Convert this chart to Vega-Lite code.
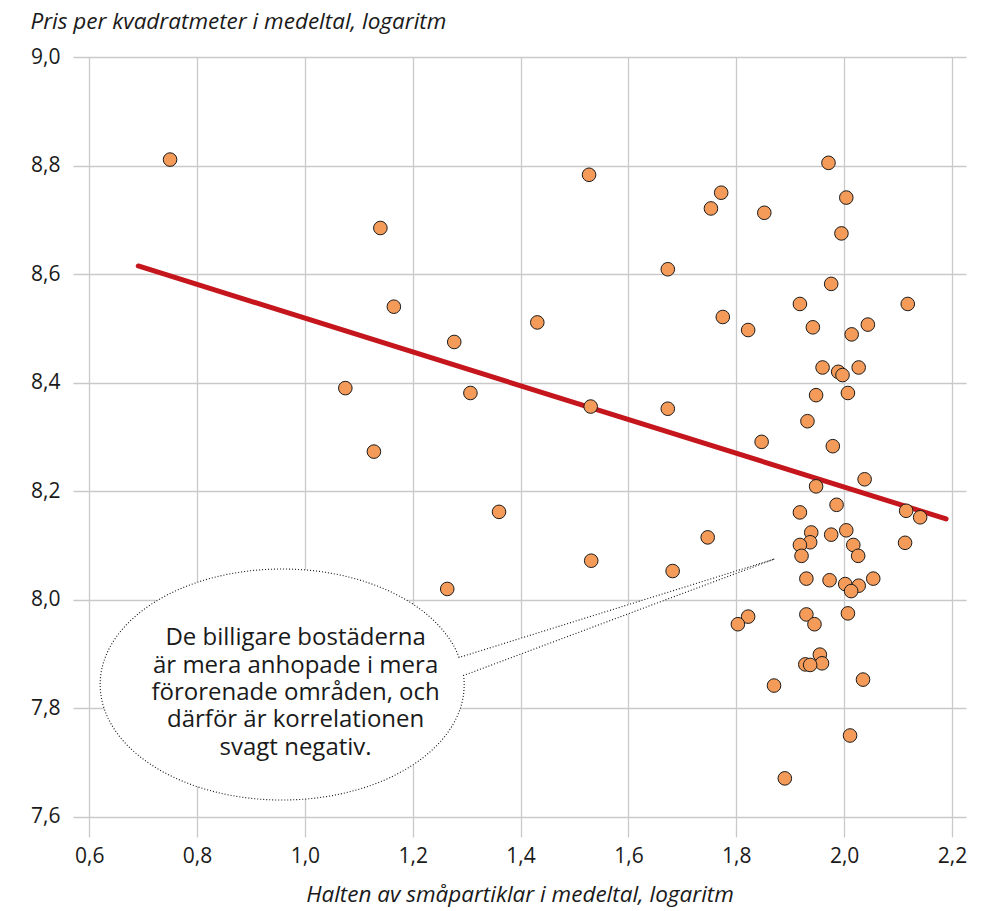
{
  "$schema": "https://vega.github.io/schema/vega-lite/v6.json",
  "width": 893,
  "height": 780,
  "autosize": "none",
  "padding": {"left": 73, "top": 57, "right": 32, "bottom": 74},
  "background": "white",
  "config": {
    "view": {"stroke": null},
    "font": "Open Sans",
    "axis": {
      "grid": true,
      "gridColor": "#c9c9c9",
      "gridWidth": 1.3,
      "domain": false,
      "ticks": false,
      "labelFont": "Open Sans",
      "labelFontSize": 21,
      "labelColor": "#1a1a1a",
      "titleFont": "Open Sans",
      "titleFontSize": 22.5,
      "titleFontStyle": "italic",
      "titleFontWeight": "normal",
      "titleColor": "#1a1a1a"
    }
  },
  "datasets": {
    "points": [
      {"x": 0.750, "y": 8.811}, {"x": 1.140, "y": 8.685}, {"x": 1.165, "y": 8.540}, {"x": 1.277, "y": 8.475},
      {"x": 1.075, "y": 8.390}, {"x": 1.307, "y": 8.381}, {"x": 1.128, "y": 8.273}, {"x": 1.360, "y": 8.162},
      {"x": 1.264, "y": 8.020}, {"x": 1.431, "y": 8.511}, {"x": 1.527, "y": 8.783}, {"x": 1.530, "y": 8.356},
      {"x": 1.531, "y": 8.072}, {"x": 1.673, "y": 8.609}, {"x": 1.673, "y": 8.352}, {"x": 1.682, "y": 8.053},
      {"x": 1.753, "y": 8.721}, {"x": 1.772, "y": 8.750}, {"x": 1.775, "y": 8.521}, {"x": 1.747, "y": 8.115},
      {"x": 1.852, "y": 8.713}, {"x": 1.822, "y": 8.497}, {"x": 1.847, "y": 8.291}, {"x": 1.822, "y": 7.969},
      {"x": 1.803, "y": 7.955}, {"x": 1.870, "y": 7.842}, {"x": 1.890, "y": 7.671},
      {"x": 1.971, "y": 8.805}, {"x": 2.004, "y": 8.741}, {"x": 1.995, "y": 8.675}, {"x": 1.976, "y": 8.582},
      {"x": 1.918, "y": 8.545}, {"x": 2.118, "y": 8.545}, {"x": 1.942, "y": 8.502}, {"x": 2.044, "y": 8.507},
      {"x": 2.014, "y": 8.489}, {"x": 1.960, "y": 8.428}, {"x": 1.989, "y": 8.420}, {"x": 1.997, "y": 8.414},
      {"x": 2.027, "y": 8.428}, {"x": 1.948, "y": 8.377}, {"x": 2.007, "y": 8.381}, {"x": 1.932, "y": 8.329},
      {"x": 1.979, "y": 8.283}, {"x": 2.038, "y": 8.222}, {"x": 1.948, "y": 8.209}, {"x": 1.986, "y": 8.175},
      {"x": 1.918, "y": 8.161}, {"x": 2.115, "y": 8.164}, {"x": 2.141, "y": 8.152}, {"x": 1.939, "y": 8.124},
      {"x": 2.004, "y": 8.128}, {"x": 1.976, "y": 8.120}, {"x": 1.937, "y": 8.106}, {"x": 1.918, "y": 8.101},
      {"x": 2.017, "y": 8.101}, {"x": 2.113, "y": 8.105}, {"x": 1.921, "y": 8.081}, {"x": 2.026, "y": 8.081},
      {"x": 1.930, "y": 8.039}, {"x": 1.973, "y": 8.036}, {"x": 2.002, "y": 8.029}, {"x": 2.027, "y": 8.026},
      {"x": 2.013, "y": 8.016}, {"x": 2.054, "y": 8.039}, {"x": 1.930, "y": 7.973}, {"x": 2.007, "y": 7.975},
      {"x": 1.945, "y": 7.955}, {"x": 1.955, "y": 7.899}, {"x": 1.959, "y": 7.883}, {"x": 1.928, "y": 7.881},
      {"x": 1.937, "y": 7.880}, {"x": 2.035, "y": 7.853}, {"x": 2.011, "y": 7.750}
    ],
    "trend": [
      {"x": 0.691, "y": 8.615},
      {"x": 2.189, "y": 8.149}
    ],
    "note": [
      {"x": 0.955, "y": 7.844, "label": "De billigare bostäderna\när mera anhopade i mera\nförorenade områden, och\ndärför är korrelationen\nsvagt negativ."}
    ]
  },
  "encoding": {
    "x": {
      "field": "x",
      "type": "quantitative",
      "scale": {"domain": [0.57, 2.226], "nice": false, "zero": false},
      "axis": {
        "values": [0.6, 0.8, 1.0, 1.2, 1.4, 1.6, 1.8, 2.0, 2.2],
        "labelExpr": "replace(format(datum.value, '.1f'), '.', ',')",
        "labelPadding": 8,
        "title": "Halten av småpartiklar i medeltal, logaritm",
        "titlePadding": 17
      }
    },
    "y": {
      "field": "y",
      "type": "quantitative",
      "scale": {"domain": [7.563, 9.0], "nice": false, "zero": false},
      "axis": {
        "values": [7.6, 7.8, 8.0, 8.2, 8.4, 8.6, 8.8, 9.0],
        "labelExpr": "replace(format(datum.value, '.1f'), '.', ',')",
        "labelPadding": 13,
        "title": "Pris per kvadratmeter i medeltal, logaritm",
        "titleAngle": 0,
        "titleAlign": "left",
        "titleBaseline": "alphabetic",
        "titleX": -43,
        "titleY": -29
      }
    }
  },
  "layer": [
    {
      "data": {"name": "note"},
      "mark": {
        "type": "point",
        "shape": "M 0.357 -0.054 A 0.364 0.231 0 1 0 0.366 -0.018 L 0.988 -0.251 Z",
        "size": 1000000,
        "filled": false,
        "fill": "white",
        "fillOpacity": 1,
        "opacity": 1,
        "stroke": "#111111",
        "strokeWidth": 1.1,
        "strokeDash": [1, 2]
      }
    },
    {
      "data": {"name": "trend"},
      "mark": {"type": "line", "color": "#c4161c", "strokeWidth": 5, "strokeCap": "round"}
    },
    {
      "data": {"name": "points"},
      "mark": {
        "type": "point",
        "shape": "circle",
        "size": 185,
        "filled": true,
        "fill": "#f49b5a",
        "fillOpacity": 1,
        "opacity": 1,
        "stroke": "#1a1a1a",
        "strokeWidth": 1
      }
    },
    {
      "data": {"name": "note"},
      "mark": {
        "type": "text",
        "font": "Open Sans",
        "fontSize": 24,
        "lineBreak": "\n",
        "lineHeight": 27.3,
        "align": "center",
        "baseline": "middle",
        "color": "#1a1a1a",
        "dx": 15,
        "dy": -46
      },
      "encoding": {"text": {"field": "label"}}
    }
  ]
}
